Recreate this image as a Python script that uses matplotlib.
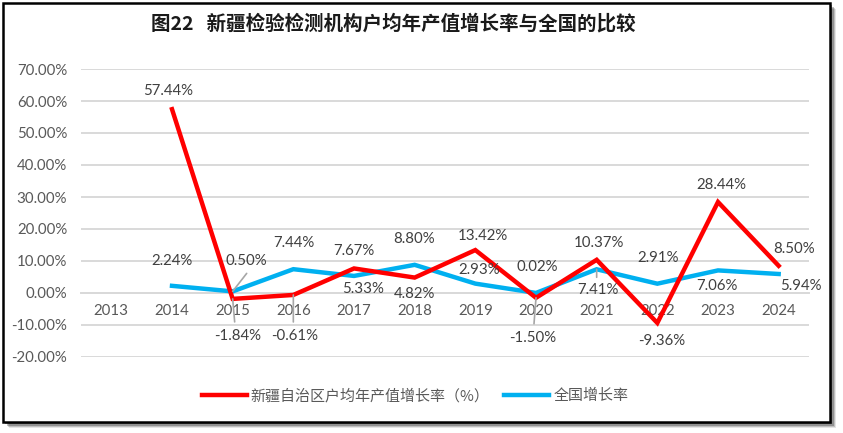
import matplotlib
matplotlib.use("Agg")
import matplotlib.pyplot as plt
from matplotlib.patches import Rectangle

# ---- data ----
years = ["2013", "2014", "2015", "2016", "2017", "2018", "2019", "2020", "2021", "2022", "2023", "2024"]
xj_years = ["2014", "2015", "2016", "2017", "2018", "2019", "2020", "2021", "2022", "2023", "2024"]
xj_rate = [57.44, -1.84, -0.61, 7.67, 4.82, 13.42, -1.50, 10.37, -9.36, 28.44, 8.50]
cn_rate = [2.24, 0.50, 7.44, 5.33, 8.80, 2.93, 0.02, 7.41, 2.91, 7.06, 5.94]
y_ticks = [-20, -10, 0, 10, 20, 30, 40, 50, 60, 70]
title = "图22   新疆检验检测机构户均年产值增长率与全国的比较"
xj_name = "新疆自治区户均年产值增长率（%）"
cn_name = "全国增长率"

# ---- label layout (pixel offsets from point) ----
xj_off = [(-4, 18), (5, -37), (1, -41), (0, 17), (0, -16), (8, 14), (-3, -40), (2, 17), (4, -18), (3, 17), (15, 17)]
xj_leader = [None, (2, -23), (0, -27), None, None, None, (-2, -26), None, None, None, None]
cn_off = [(0, 25), (14, 30), (1, 26), (9, -13), (-1, 26), (4, 14), (1, 26), (1, -21), (1, 26), (-1, -16), (22, -12)]
cn_leader = [None, (14, 18), None, None, None, None, None, (0, -8), None, None, None]

W, H = 843, 433
fig = plt.figure(figsize=(W / 100, H / 100), dpi=100)
fig.patch.set_facecolor("white")

# border with soft shadow
for i, a in enumerate([0.10, 0.16, 0.24, 0.34]):
    d = 6 - i * 1.2
    fig.patches.append(Rectangle(((3 + d) / W, (H - 422 - d) / H), 827 / W, 419 / H,
                                 transform=fig.transFigure, facecolor=(0, 0, 0, a),
                                 edgecolor="none", zorder=0))
fig.patches.append(Rectangle((3 / W, (H - 422) / H), 827 / W, 419 / H,
                             transform=fig.transFigure, facecolor="white",
                             edgecolor="black", linewidth=1.8, zorder=1))

ax = fig.add_axes([81 / W, (H - 357) / H, (809 - 81) / W, (357 - 69) / H])
ax.set_facecolor("none")
ax.set_zorder(2)

xpos = list(range(len(years)))
xj_x = [years.index(y) for y in xj_years]

ax.set_xlim(-0.5, len(years) - 0.5)
ax.set_ylim(y_ticks[0], y_ticks[-1])
ax.set_yticks(y_ticks)
ax.set_yticklabels([f"{v:.2f}%" for v in y_ticks])
ax.set_xticks(xpos)
ax.set_xticklabels(years)
ax.grid(axis="y", color="#D9D9D9", linewidth=1.4)
ax.set_axisbelow(True)
for s in ["left", "right", "top"]:
    ax.spines[s].set_visible(False)
ax.spines["bottom"].set_position(("data", 0))
ax.spines["bottom"].set_color("#D9D9D9")
ax.spines["bottom"].set_linewidth(1.4)
ax.tick_params(axis="both", length=0, colors="#595959", labelsize=10.8)
ax.tick_params(axis="x", pad=8)
ax.tick_params(axis="y", pad=10)
for t in ax.get_xticklabels() + ax.get_yticklabels():
    t.set_fontfamily(["Lato", "DejaVu Sans"])

ax.plot(xj_x, xj_rate, color="#FF0000", linewidth=3.2, solid_joinstyle="miter", label=xj_name, zorder=4)
ax.plot(xj_x, cn_rate, color="#00B0F0", linewidth=3.2, solid_joinstyle="miter", label=cn_name, zorder=3)

def labels(xs, vals, offs, leaders):
    for x, v, o, ld in zip(xs, vals, offs, leaders):
        ax.annotate(f"{v:.2f}%", (x, v), xytext=o, textcoords="offset pixels",
                    ha="center", va="center", fontsize=10.8, color="#404040",
                    fontfamily=["Lato", "DejaVu Sans"], zorder=6)
        if ld is not None:
            ax.annotate("", (x, v), xytext=ld, textcoords="offset pixels",
                        arrowprops=dict(arrowstyle="-", color="#A6A6A6", lw=1.2,
                                        shrinkA=0, shrinkB=0), zorder=5)

labels(xj_x, xj_rate, xj_off, xj_leader)
labels(xj_x, cn_rate, cn_off, cn_leader)

fig.text(393 / W, 1 - 24 / H, title, ha="center", va="center", fontsize=14,
         fontweight="bold", color="#1A1A1A", fontfamily=["Noto Sans CJK SC", "DejaVu Sans"])

leg = fig.legend(loc="center", bbox_to_anchor=(415 / W, 1 - 396 / H), ncol=2, frameon=False,
                 handlelength=3.0, handletextpad=0.25, columnspacing=1.0,
                 prop={"family": ["Noto Sans CJK SC", "DejaVu Sans"], "size": 10.8})
for t in leg.get_texts():
    t.set_color("#595959")
leg.set_zorder(6)

fig.savefig("out.png", dpi=100)
